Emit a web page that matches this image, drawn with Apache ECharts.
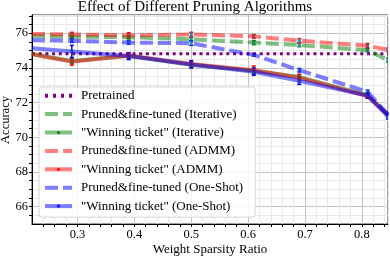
<!DOCTYPE html>
<html><head><meta charset="utf-8">
<script src="https://cdn.jsdelivr.net/npm/echarts@6/dist/echarts.min.js"></script>
<style>html,body{margin:0;padding:0;background:#fff}#c{width:390px;height:256px}</style>
</head><body><div id="c"></div>
<script>
// ---- data ----
const xs = [0.22, 0.29, 0.39, 0.5, 0.61, 0.69, 0.81, 0.846];
const pretrained = [74.82, 74.82, 74.82, 74.82, 74.82, 74.82, 74.82, 74.82];
const pfIter  = [75.84, 75.80, 75.77, 75.65, 75.46, 75.32, 75.02, 74.45];
const wtIter  = [74.80, 74.40, 74.70, 74.18, 73.83, 73.47, 72.42, 71.30];
const pfAdmm  = [75.96, 75.93, 75.88, 75.93, 75.82, 75.57, 75.28, 75.04];
const wtAdmm  = [74.78, 74.36, 74.72, 74.22, 73.86, 73.43, 72.38, 71.28];
const pfOne   = [75.61, 75.57, 75.46, 75.42, 74.75, 73.87, 72.62, 71.30];
const wtOne   = [75.13, 74.95, 74.68, 74.20, 73.78, 73.25, 72.40, 71.20];
const errPfIter = [0, 0.08, 0.10, 0.10, 0.12, 0.10, 0.08, 0.10];
const errWtIter = [0, 0.15, 0.15, 0.15, 0.15, 0.15, 0.15, 0.15];
const errPfAdmm = [0, 0.12, 0.15, 0.12, 0.10, 0.12, 0.12, 0.10];
const errWtAdmm = [0, 0.20, 0.15, 0.20, 0.25, 0.20, 0.12, 0.15];
const errPfOne  = [0, 0.10, 0.10, 0.12, 0.08, 0.10, 0.10, 0.10];
const errWtOne  = [0, 0.35, 0.20, 0.20, 0.20, 0.20, 0.15, 0.15];
const names = ['Pretrained', 'Pruned&fine-tuned (Iterative)', '"Winning ticket" (Iterative)',
  'Pruned&fine-tuned (ADMM)', '"Winning ticket" (ADMM)', 'Pruned&fine-tuned (One-Shot)', '"Winning ticket" (One-Shot)'];
const title = 'Effect of Different Pruning Algorithms';
const xName = 'Weight Sparsity Ratio';
const yName = 'Accuracy';

const FONT = 'Liberation Serif';
const MINOR = '#e8e8e8', MAJOR = '#c4c4c4';
const pair = a => xs.map((x, i) => [x, a[i]]);
const DOTS = 'path://M0,0h3v4h-3z M8,0h3v4h-3z M16,0h3v4h-3z M24,0h3v4h-3z';
const DASH = 'path://M0,0h13v4h-13z M18,0h9v4h-9z';

function lineS(name, vals, color, type, width, op, sym) {
  return {
    type: 'line', name, data: pair(vals), xAxisIndex: 0, yAxisIndex: 0,
    symbol: sym ? 'circle' : 'none', symbolSize: 4, showSymbol: false,
    lineStyle: { color, width, type, opacity: op, cap: 'butt' },
    itemStyle: { color, opacity: op },
    emphasis: { disabled: true }, silent: true, clip: true, z: 2
  };
}
function errS(vals, errs, color) {
  const d = xs.map((x, i) => [x, vals[i], errs[i]]).filter(r => r[2] > 0);
  return {
    type: 'custom', data: d, encode: { x: 0, y: 1 }, clip: true, silent: true, z: 2,
    renderItem: (params, api) => {
      const x = api.value(0), y = api.value(1), e = api.value(2);
      const t = api.coord([x, y + e]), b = api.coord([x, y - e]), c = api.coord([x, y]);
      const st = { stroke: color, lineWidth: 1.5 };
      return { type: 'group', children: [
        { type: 'line', shape: { x1: t[0], y1: t[1], x2: b[0], y2: b[1] }, style: st },
        { type: 'line', shape: { x1: t[0] - 2, y1: t[1], x2: t[0] + 2, y2: t[1] }, style: st },
        { type: 'line', shape: { x1: b[0] - 2, y1: b[1], x2: b[0] + 2, y2: b[1] }, style: st },
        { type: 'rect', shape: { x: c[0] - 1.5, y: c[1] - 2, width: 3, height: 4 }, style: { fill: '#2a8ca8' } }
      ] };
    }
  };
}
const legendIcons = [DOTS, DASH, null, DASH, null, DASH, null];
const legendData = names.map((n, i) => legendIcons[i]
  ? { name: n, icon: legendIcons[i] }
  : { name: n, lineStyle: { width: 4 }, itemStyle: { opacity: 0.9 } });

const axisTxt = { fontFamily: FONT, fontSize: 12.5, color: '#000' };
const chart = echarts.init(document.getElementById('c'), null, { renderer: 'canvas' });
chart.setOption({
  animation: false,
  backgroundColor: '#fff',
  grid: { left: 32, right: 2, top: 15, bottom: 32, show: true, borderColor: '#333', borderWidth: 1, backgroundColor: 'transparent' },
  xAxis: [{
    type: 'value', min: 0.22, max: 0.846, interval: 0.02,
    axisLine: { show: true, onZero: false, lineStyle: { color: '#000', width: 1 } },
    axisTick: { show: true, inside: false, length: 3, lineStyle: { color: '#000' } },
    axisLabel: Object.assign({ margin: 4, showMinLabel: false, showMaxLabel: false, hideOverlap: false,
      formatter: v => (Math.abs(v * 10 - Math.round(v * 10)) < 1e-6 ? v.toFixed(1) : '') }, axisTxt),
    splitLine: { show: true, lineStyle: { color: [MINOR, MINOR, MINOR, MINOR, MAJOR], width: 1 } }
  }],
  yAxis: [{
    type: 'value', min: 65, max: 77.05, interval: 0.5,
    axisLine: { show: true, onZero: false, lineStyle: { color: '#000', width: 1 } },
    axisTick: { show: true, inside: false, length: 3, lineStyle: { color: '#000' } },
    axisLabel: Object.assign({ margin: 4, showMinLabel: false, showMaxLabel: false, hideOverlap: false,
      formatter: v => (Math.abs(v / 2 - Math.round(v / 2)) < 1e-6 ? String(Math.round(v)) : '') }, axisTxt),
    splitLine: { show: true, lineStyle: { color: [MINOR, MINOR, MAJOR, MINOR], width: 1 } }
  }],
  legend: {
    show: true, orient: 'vertical', left: 39, top: 87, data: legendData,
    itemWidth: 27, itemHeight: 4, itemGap: 5.4, padding: [2.2, 12, 4.5, 4],
    backgroundColor: 'rgba(255,255,255,0.85)', borderColor: '#d4d4d4', borderWidth: 1, borderRadius: 3,
    textStyle: { fontFamily: FONT, fontSize: 13, lineHeight: 13, color: '#000', padding: [0, 0, 0, 4] },
    selectedMode: false
  },
  graphic: [
    { type: 'text', left: 'center', top: 0, style: { text: title, font: '15px "Liberation Serif"', fill: '#000' } },
    { type: 'text', x: 210, y: 250, style: { text: xName, font: '13px "Liberation Serif"', fill: '#000', align: 'center', verticalAlign: 'middle' } },
    { type: 'text', x: 6, y: 120, rotation: Math.PI / 2, style: { text: yName, font: '12.5px "Liberation Serif"', fill: '#000', align: 'center', verticalAlign: 'middle' } }
  ],
  series: [
    lineS(names[0], pretrained, '#800080', [3, 3.7], 3, 1, false),
    lineS(names[1], pfIter, '#008000', [13, 5], 4, 0.5, false),
    errS(pfIter, errPfIter, '#008000'),
    lineS(names[2], wtIter, '#008000', 'solid', 4, 0.5, true),
    errS(wtIter, errWtIter, '#008000'),
    lineS(names[3], pfAdmm, '#ff0000', [13, 5], 4, 0.5, false),
    errS(pfAdmm, errPfAdmm, '#ff0000'),
    lineS(names[4], wtAdmm, '#ff0000', 'solid', 4, 0.5, true),
    errS(wtAdmm, errWtAdmm, '#ff0000'),
    lineS(names[5], pfOne, '#0000ff', [13, 5], 4, 0.5, false),
    errS(pfOne, errPfOne, '#0000ff'),
    lineS(names[6], wtOne, '#0000ff', 'solid', 4, 0.5, true),
    errS(wtOne, errWtOne, '#0000ff')
  ]
});
</script></body></html>
